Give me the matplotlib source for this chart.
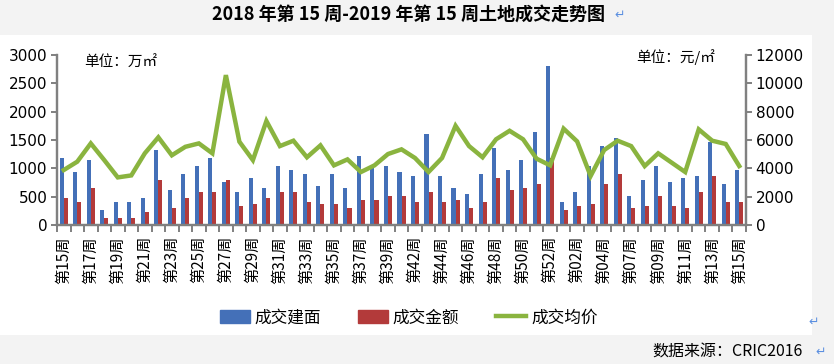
import numpy as np
import matplotlib.pyplot as plt
from matplotlib.patches import Rectangle
from matplotlib.lines import Line2D

plt.rcParams['font.family'] = ['Noto Sans CJK SC', 'DejaVu Sans']

# weeks: 2018 wk15 .. wk52, 2019 wk01 .. wk15 (holiday weeks merged)
weeks = ['15', '16', '17', '18', '19', '20', '21', '22', '23', '24', '25', '26', '27',
         '28', '29', '30', '31', '32', '33', '34', '35', '36', '37', '38', '39', '41',
         '42', '43', '44', '45', '46', '47', '48', '49', '50', '51', '52',
         '01', '02', '03', '04', '06', '07', '08', '09', '10', '11', '12', '13', '14', '15']

# 成交建面 (万㎡)
area = [1180, 935, 1150, 265, 405, 405, 476, 1320, 617, 900, 1040, 1180, 758,
        582, 829, 653, 1040, 970, 900, 688, 900, 653, 1217, 1005, 1040, 935,
        864, 1605, 864, 653, 547, 900, 1358, 970, 1146, 1640, 2804,
        405, 582, 1040, 1393, 1534, 511, 794, 1040, 758, 829, 864, 1464, 723, 970]

# 成交金额 (亿元)
amount = [476, 405, 653, 123, 123, 123, 229, 794, 300, 476, 582, 582, 794,
          335, 370, 476, 582, 582, 405, 370, 370, 300, 441, 441, 511, 511,
          405, 582, 405, 441, 300, 405, 829, 617, 653, 723, 1182,
          265, 335, 370, 723, 900, 300, 335, 511, 335, 300, 582, 864, 405, 405]

# 成交均价 (元/㎡)
price = [3880, 4470, 5760, 4580, 3360, 3500, 5060, 6190, 4920, 5520, 5760, 5060, 10580,
         5880, 4580, 7340, 5570, 5950, 4780, 5620, 4210, 4630, 3740, 4210, 5010, 5340,
         4730, 3740, 4730, 7000, 5570, 4780, 6050, 6650, 6050, 4680, 4210,
         6800, 5900, 3460, 5290, 5950, 5570, 4160, 5060, 4400, 3740, 6750, 5950, 5720, 4160]

labels = ['第' + w + '周' for w in weeks]

c_blue = '#4470B8'
c_red = '#B33A3A'
c_green = '#8AB43F'
c_axis = '#808080'

fig = plt.figure(figsize=(8.34, 3.64), dpi=100)
fig.patch.set_facecolor('#f3f3f3')
# white chart panel
panel = Rectangle((0, 1 - 335 / 364), 812 / 834, 300 / 364,
                  transform=fig.transFigure, facecolor='white',
                  edgecolor='none', zorder=-10)
fig.patches.append(panel)

ax = fig.add_axes([57 / 834, 1 - 225 / 364, 689 / 834, 170 / 364])
ax.set_facecolor('none')
x = np.arange(len(weeks))
w = 0.3
ax.bar(x - w / 2, area, width=w, color=c_blue, zorder=2)
ax.bar(x + w / 2, amount, width=w, color=c_red, zorder=2)
ax.set_xlim(-0.5, len(weeks) - 0.5)
ax.set_ylim(0, 3000)
ax.set_yticks(range(0, 3001, 500))

ax2 = ax.twinx()
ax2.plot(x, price, color=c_green, lw=3.2, solid_joinstyle='miter', zorder=3)
ax2.set_ylim(0, 12000)
ax2.set_yticks(range(0, 12001, 2000))

for a in (ax, ax2):
    a.spines['top'].set_visible(False)
    for s in ('left', 'right', 'bottom'):
        a.spines[s].set_color(c_axis)
        a.spines[s].set_linewidth(1.6)
    a.tick_params(axis='y', colors=c_axis, length=4, width=1.4, labelsize=11,
                  labelcolor='black', pad=3)
    for t in a.get_yticklabels():
        t.set_family('DejaVu Sans')

# category boundary ticks on x axis, labels every other week
ax.set_xticks(np.arange(-0.5, len(weeks), 1.0), minor=True)
ax.tick_params(axis='x', which='minor', length=5, width=1.4, color=c_axis)
ax.set_xticks(x[::2])
ax.set_xticklabels(labels[::2], rotation=90, fontsize=11)
ax.tick_params(axis='x', which='major', length=0, pad=8)

ax.text(0.04, 0.955, '单位：万㎡', transform=ax.transAxes, fontsize=10.5,
        va='center', ha='left')
ax.text(0.955, 0.985, '单位：元/㎡', transform=ax.transAxes, fontsize=10.5,
        va='center', ha='right')

fig.text(0.49, 1 - 14 / 364, '2018 年第 15 周-2019 年第 15 周土地成交走势图',
         fontsize=13, fontweight='bold', ha='center', va='center')
fig.text(614 / 834, 1 - 15 / 364, '↵', color='#5b8fe0', fontsize=9,
         ha='left', va='center', family=['DejaVu Sans'])

handles = [Rectangle((0, 0), 1, 1, color=c_blue),
           Rectangle((0, 0), 1, 1, color=c_red),
           Line2D([0], [0], color=c_green, lw=3.2)]
fig.legend(handles, ['成交建面', '成交金额', '成交均价'], loc='center',
           bbox_to_anchor=(0.49, 1 - 318 / 364), ncol=3, frameon=False,
           fontsize=12, handlelength=1.8, handleheight=0.8, columnspacing=2.2,
           handletextpad=0.3)
fig.text(808 / 834, 1 - 322 / 364, '↵', color='#5b8fe0', fontsize=9,
         ha='left', va='center', family=['DejaVu Sans'])

fig.text(803 / 834, 1 - 352 / 364, '数据来源：CRIC2016', fontsize=11.5,
         ha='right', va='center')
fig.text(815 / 834, 1 - 352 / 364, '↵', color='#5b8fe0', fontsize=9,
         ha='left', va='center', family=['DejaVu Sans'])

fig.savefig('out.png', dpi=100, facecolor=fig.get_facecolor())
